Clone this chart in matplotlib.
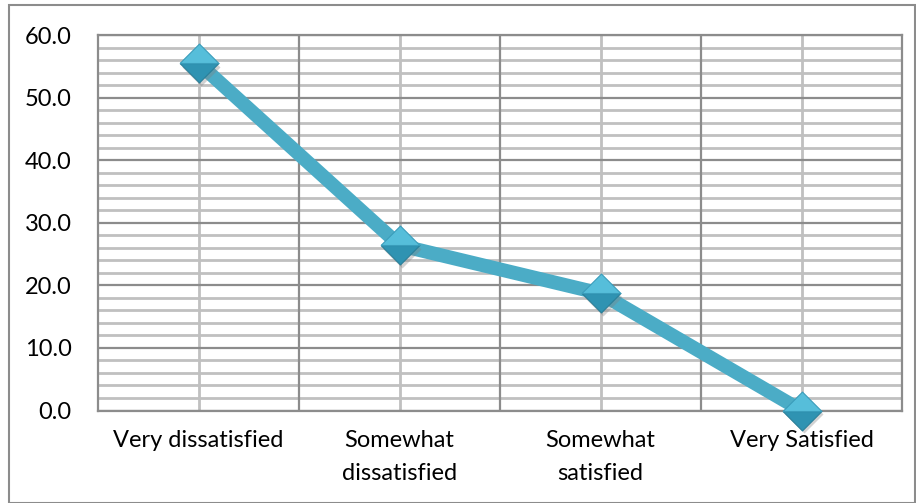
import matplotlib
matplotlib.use("Agg")
import matplotlib.pyplot as plt
from matplotlib.transforms import ScaledTranslation

categories = ["Very dissatisfied", "Somewhat\ndissatisfied", "Somewhat\nsatisfied", "Very Satisfied"]
values = [55.5, 26.4, 18.7, 0.0]
y_ticks = [0.0, 10.0, 20.0, 30.0, 40.0, 50.0, 60.0]

plt.rcParams["font.family"] = ["Lato", "DejaVu Sans"]

fig = plt.figure(figsize=(9.16, 5.03), dpi=100)
ax = fig.add_axes([98 / 916, 92.5 / 503, 804 / 916, 375.5 / 503])

x = list(range(len(categories)))
ax.set_xlim(-0.5, len(categories) - 0.5)
ax.set_ylim(0, 60)

# horizontal grid: minor every 2, major every 10
for v in range(0, 61, 2):
    if v % 10:
        ax.axhline(v, color="#c0c0c0", lw=2.0, zorder=1)
for v in y_ticks:
    ax.axhline(v, color="#8c8c8c", lw=1.6, zorder=1.1)
# vertical grid: category centres (light) and boundaries (dark)
for xi in x:
    ax.axvline(xi, color="#c0c0c0", lw=2.0, zorder=1)
for b in range(len(categories) - 1):
    ax.axvline(b + 0.5, color="#8c8c8c", lw=1.6, zorder=1.1)

for s in ax.spines.values():
    s.set_color("#8c8c8c")
    s.set_linewidth(1.6)

# series line
ax.plot(x, values, color="#4BACC6", lw=10, solid_capstyle="butt", zorder=3, clip_on=False)

# diamond markers with a soft shadow and two-tone bevel
ms = 28
upper = [(-1, 0), (0, 1), (1, 0), (-1, 0)]
lower = [(-1, 0), (0, -1), (1, 0), (-1, 0)]
shadow = ax.plot(x, values, ls="none", marker="D", ms=ms / 1.414, mfc="#7f7f7f", mec="none",
                 alpha=0.35, zorder=3.5, clip_on=False)[0]
shadow.set_transform(ax.transData + ScaledTranslation(1.5 / 72, -2.5 / 72, fig.dpi_scale_trans))
ax.plot(x, values, ls="none", marker=lower, ms=ms, mfc="#2F93B2", mec="#2A7F99", mew=0.8,
        zorder=4, clip_on=False)
ax.plot(x, values, ls="none", marker=upper, ms=ms, mfc="#56BEDA", mec="#3A9DBB", mew=0.8,
        zorder=4.1, clip_on=False)

ax.set_xticks(x)
ax.set_xticklabels(categories, fontsize=17, color="#000000", linespacing=1.7)
ax.set_yticks(y_ticks)
ax.set_yticklabels([f"{v:.1f}" for v in y_ticks], fontsize=17, color="#000000")
ax.tick_params(axis="both", length=0)
ax.tick_params(axis="y", pad=19)
ax.tick_params(axis="x", pad=14)

# chart frame
fig.add_artist(plt.Rectangle((9 / 916, 0), 906 / 916, 498 / 503, transform=fig.transFigure,
                             fill=False, edgecolor="#8c8c8c", lw=1.5))

fig.savefig("out.png", dpi=100, facecolor="white")
